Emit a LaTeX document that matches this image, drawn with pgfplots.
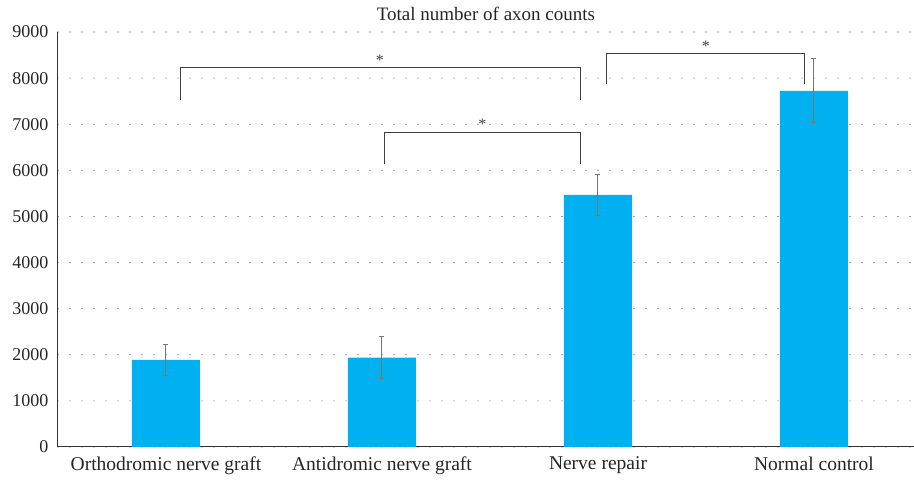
\documentclass[border=0pt]{standalone}
\usepackage{fontspec}
\setmainfont{Liberation Serif}
\usepackage{pgfplots}
\pgfplotsset{compat=1.18}
\definecolor{barblue}{HTML}{00B0F0}
\definecolor{errgray}{HTML}{777777}
\definecolor{brk}{HTML}{404040}
\begin{document}
\begin{tikzpicture}
\begin{axis}[
  set layers,
  scale only axis,
  width=856pt, height=415pt,
  xmin=-0.5, xmax=3.463,
  ymin=0, ymax=9000,
  ytick={0,1000,...,9000},
  xtick={0,1,2,3},
  xticklabels={Orthodromic nerve graft, Antidromic nerve graft, Nerve repair, Normal control},
  axis lines=left,
  axis line style={-, line width=1pt, black!80},
  major tick length=0pt,
  ymajorgrids,
  grid style={black!75, line width=1.2pt, dash pattern=on 0pt off 12pt, line cap=round},
  /pgf/number format/assume math mode=true,
  /pgf/number format/1000 sep={},
  yticklabel style={font=\fontsize{18}{21}\selectfont, text=black!85, xshift=-6pt},
  xticklabel style={font=\fontsize{19.5}{22}\selectfont, text=black!85, yshift=-6pt},
  title={Total number of axon counts},
  title style={font=\fontsize{19}{22}\selectfont, text=black!85, yshift=2pt},
  clip=false,
]
\addplot[ybar, bar width=68pt, fill=barblue, draw=none]
  coordinates {(0,1890) (1,1940) (2,5465) (3,7725)};
\addplot[on layer=axis foreground, errgray, line width=1pt, only marks, mark=text, text mark={}, forget plot,
  error bars/.cd, y dir=both, y explicit,
  error bar style={draw=errgray, solid, line width=1pt},
  error mark options={draw=errgray, line width=1pt, mark size=2.5pt, rotate=90}]
  coordinates {(0,1890) += (0,340) -= (0,340) (1,1940) += (0,465) -= (0,465) (2,5465) += (0,455) -= (0,455) (3,7725) += (0,690) -= (0,690)};
\draw[brk, line width=1pt] (axis cs:0.065,7530) -- (axis cs:0.065,8220) -- (axis cs:1.92,8220) -- (axis cs:1.92,7530);
\node[font=\fontsize{16}{18}\selectfont, text=brk] at (axis cs:0.99,8390) {*};
\draw[brk, line width=1pt] (axis cs:1.01,6140) -- (axis cs:1.01,6830) -- (axis cs:1.92,6830) -- (axis cs:1.92,6140);
\node[font=\fontsize{16}{18}\selectfont, text=brk] at (axis cs:1.465,7000) {*};
\draw[brk, line width=1pt] (axis cs:2.04,7870) -- (axis cs:2.04,8530) -- (axis cs:2.958,8530) -- (axis cs:2.958,7870);
\node[font=\fontsize{16}{18}\selectfont, text=brk] at (axis cs:2.5,8700) {*};
\end{axis}
\pgfresetboundingbox
\path[use as bounding box] (-58pt,-34pt) rectangle (856pt,447pt);
\end{tikzpicture}
\end{document}
